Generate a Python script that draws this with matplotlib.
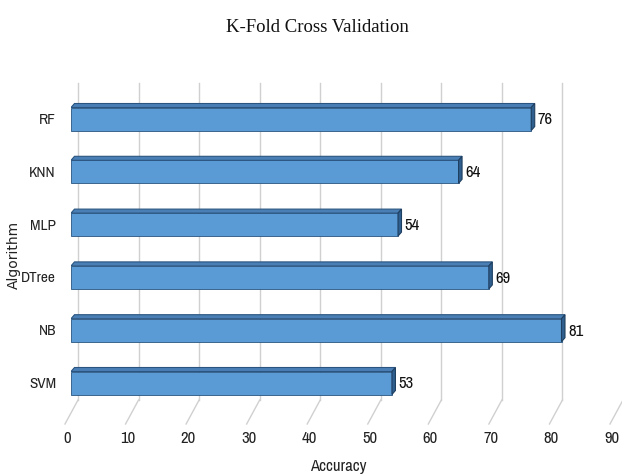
import matplotlib
matplotlib.use("Agg")
import matplotlib.pyplot as plt
from matplotlib.patches import Polygon
from matplotlib import font_manager as fm
import numpy as np

# ---- data ----
algorithms = ["SVM", "NB", "DTree", "MLP", "KNN", "RF"]
accuracy = [53, 81, 69, 54, 64, 76]
x_ticks = [0, 10, 20, 30, 40, 50, 60, 70, 80, 90]
title = "K-Fold Cross Validation"
x_label = "Accuracy"
y_label = "Algorithm"

# pick a condensed sans font if one is installed
names = sorted({f.name for f in fm.fontManager.ttflist})
cond = [n for n in names if ("Narrow" in n or "Condensed" in n) and "Serif" not in n
        and "Mono" not in n]
if cond:
    NARROW = [cond[0], "DejaVu Sans"]
    nsize = 12
    csize = 11
else:
    NARROW = ["Liberation Sans", "DejaVu Sans"]
    nsize = 9
    csize = 8.5

W, H = 622, 477
DPI = 100
fig = plt.figure(figsize=(W / DPI, H / DPI), dpi=DPI)
fig.patch.set_facecolor("white")

ax_left, ax_right = 71, 616
ax_top, ax_bottom = 84, 401
ax = fig.add_axes([ax_left / W, (H - ax_bottom) / H,
                   (ax_right - ax_left) / W, (ax_bottom - ax_top) / H])
ax.set_xlim(0, 90)
row_px = 52.8
ymin = -(ax_bottom - 382) / row_px
ymax = ymin + (ax_bottom - ax_top) / row_px
ax.set_ylim(ymin, ymax)
ax.axis("off")

sx = (ax_right - ax_left) / 90.0
sy = row_px

def px2x(p):
    return p / sx

def px2y(p):
    return p / sy

grid_col = "#d0d0d0"
wall_dx = 7
floor_dx = -6
floor_dy = -24

for v in x_ticks:
    xb = v + px2x(wall_dx)
    ax.plot([xb, xb], [ymin, ymax], color=grid_col, lw=1.0, zorder=1, clip_on=False)
    xf = v + px2x(floor_dx)
    ax.plot([xb, xf], [ymin, ymin + px2y(floor_dy)], color=grid_col, lw=1.0,
            zorder=1, clip_on=False)
    ax.text(v + px2x(-4), ymin + px2y(-38), str(v), ha="center", va="center",
            fontsize=nsize, family=NARROW, color="#222222", clip_on=False)

front_h = px2y(23)
depth_x = px2x(3.5)
depth_y = px2y(4)
front_col = "#5b9bd5"
top_col = "#4a7fb5"
side_col = "#2e5f8f"
edge_col = "#2a5580"

ys = np.arange(len(algorithms))
for yi, (name, v) in enumerate(zip(algorithms, accuracy)):
    yc = ys[yi] - depth_y / 2
    y0 = yc - front_h / 2
    y1 = yc + front_h / 2
    ax.barh(yc, v, height=front_h, left=0, color=front_col,
            edgecolor=edge_col, linewidth=0.6, zorder=3)
    top = Polygon([[0, y1], [v, y1], [v + depth_x, y1 + depth_y],
                   [depth_x, y1 + depth_y]], closed=True,
                  facecolor=top_col, edgecolor=edge_col, lw=0.8, zorder=3)
    ax.add_patch(top)
    side = Polygon([[v, y0], [v + depth_x, y0 + depth_y],
                    [v + depth_x, y1 + depth_y], [v, y1]], closed=True,
                   facecolor=side_col, edgecolor="#1f3f60", lw=0.8, zorder=3)
    ax.add_patch(side)
    ax.text(v + depth_x + px2x(3), yc, str(v), ha="left", va="center",
            fontsize=nsize, family=NARROW, color="#111111", zorder=4)
    ax.text(px2x(-15), yc, name, ha="right", va="center",
            fontsize=csize, family=NARROW, color="#222222", clip_on=False)

fig.text(317 / W, 1 - 27 / H, title, ha="center", va="center",
         fontsize=13.5, family=["Liberation Serif", "DejaVu Serif"], color="#111111")
fig.text(338 / W, 1 - 467 / H, x_label, ha="center", va="center",
         fontsize=nsize, family=NARROW, color="#222222")
fig.text(14 / W, 1 - 255 / H, y_label, ha="center", va="center", rotation=90,
         fontsize=10, family=["DejaVu Sans"], color="#222222")

fig.savefig("out.png", dpi=DPI, facecolor="white")
